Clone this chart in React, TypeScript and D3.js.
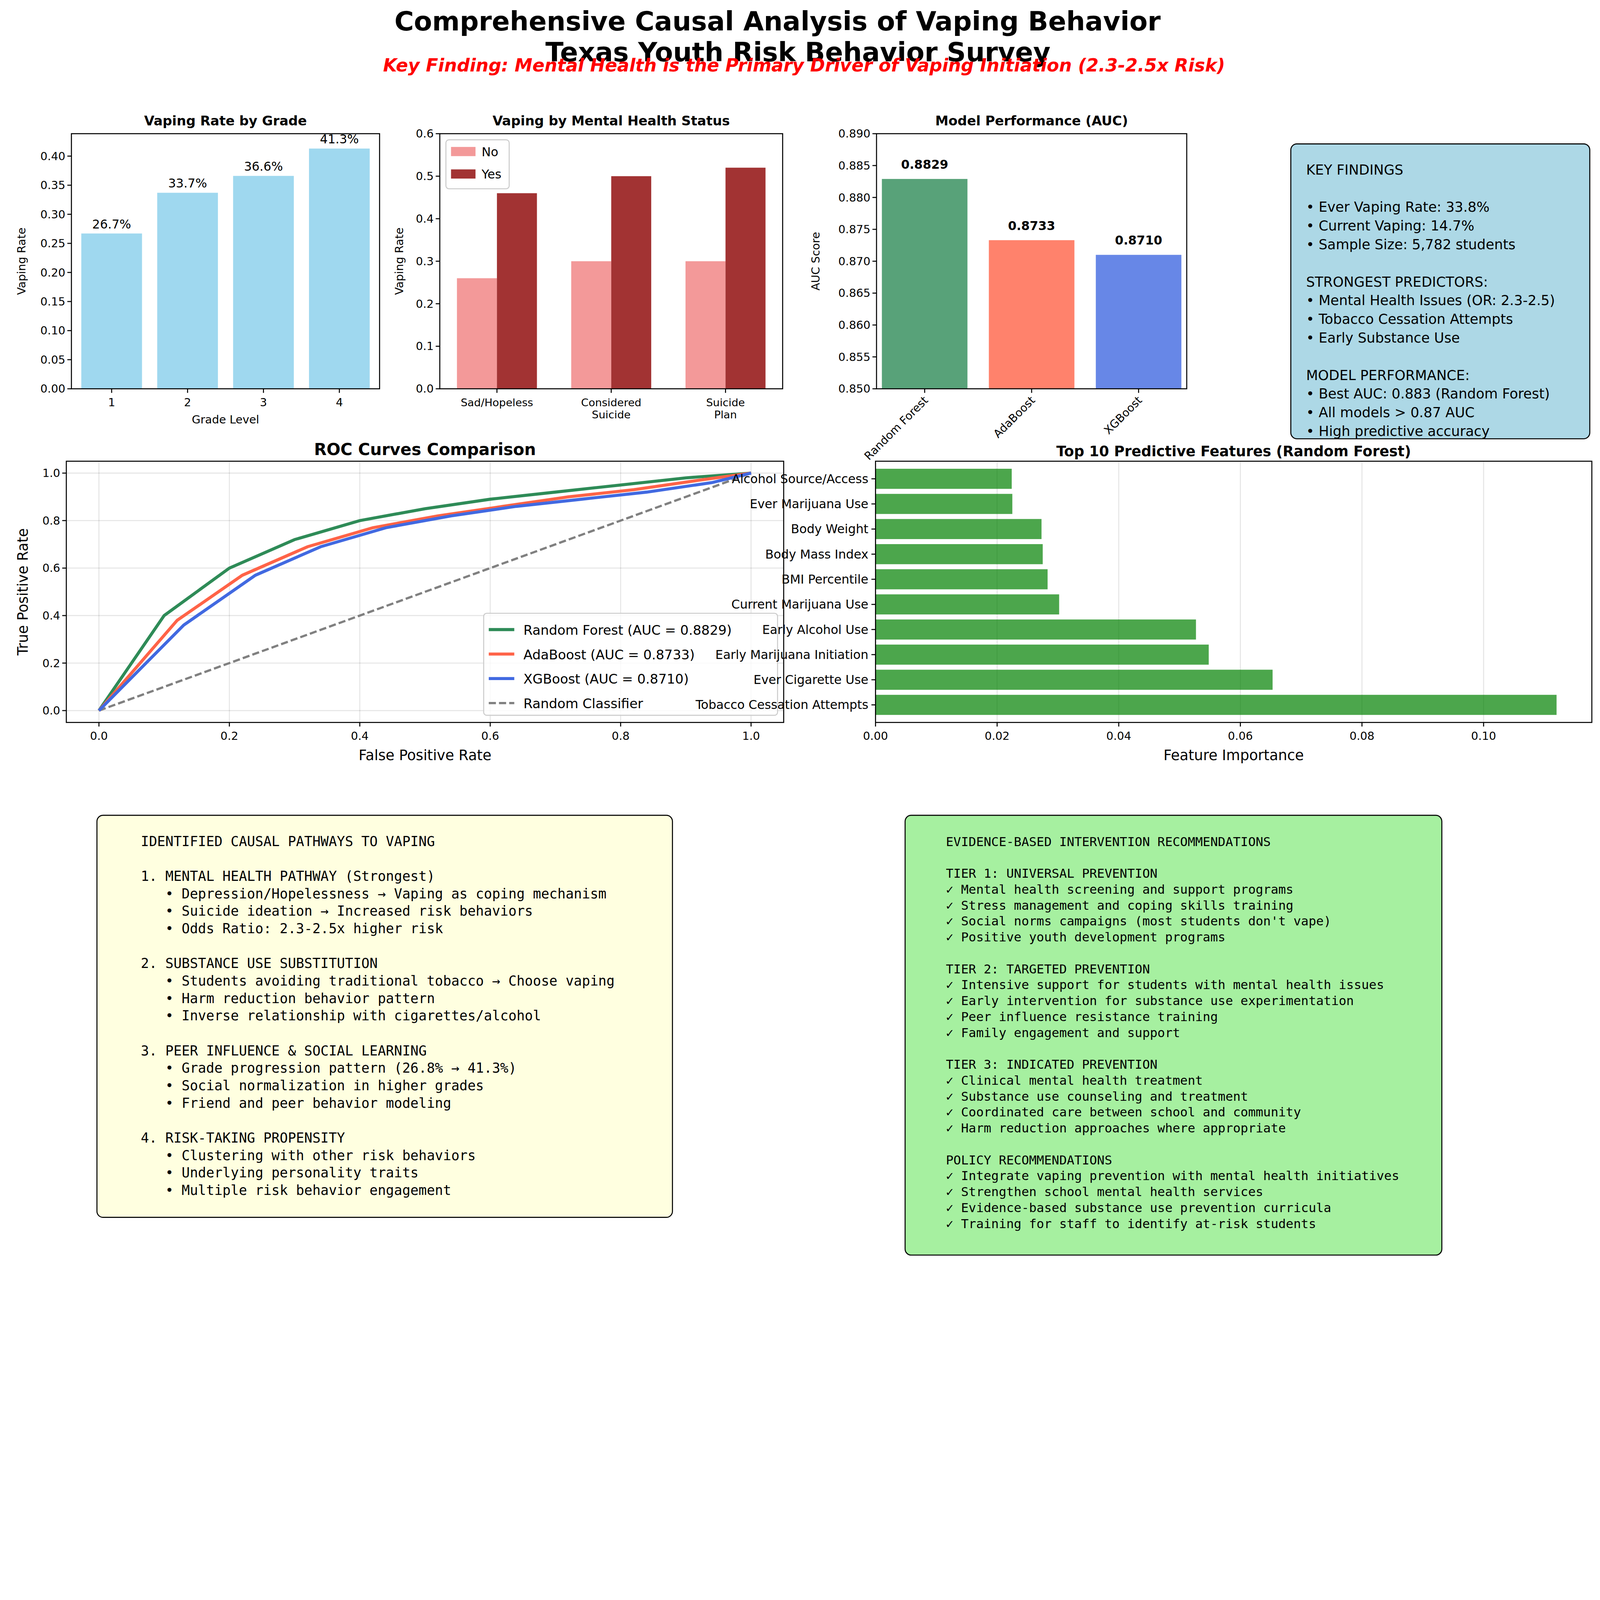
import * as d3 from "d3";

const grades = ["1", "2", "3", "4"];
const gradeRates = [0.267, 0.337, 0.366, 0.413];

const mhCategories = ["Sad/Hopeless", "Considered\nSuicide", "Suicide\nPlan"];
const mhNo = [0.26, 0.3, 0.3];
const mhYes = [0.46, 0.5, 0.52];

const models = ["Random Forest", "AdaBoost", "XGBoost"];
const modelAuc = [0.8829, 0.8733, 0.871];
const modelColors = ["#2e8b57", "#ff6347", "#4169e1"];

const rocRF = [[0, 0], [0.1, 0.4], [0.2, 0.6], [0.3, 0.72], [0.4, 0.8], [0.5, 0.85], [0.6, 0.89], [0.7, 0.92], [0.8, 0.95], [0.9, 0.98], [1, 1]];
const rocAda = [[0, 0], [0.12, 0.38], [0.22, 0.57], [0.32, 0.69], [0.42, 0.77], [0.52, 0.82], [0.62, 0.86], [0.72, 0.9], [0.82, 0.93], [0.92, 0.97], [1, 1]];
const rocXgb = [[0, 0], [0.13, 0.36], [0.24, 0.57], [0.34, 0.69], [0.44, 0.77], [0.54, 0.82], [0.64, 0.86], [0.74, 0.89], [0.84, 0.92], [0.94, 0.96], [1, 1]];

const features = ["Alcohol Source/Access", "Ever Marijuana Use", "Body Weight", "Body Mass Index", "BMI Percentile", "Current Marijuana Use", "Early Alcohol Use", "Early Marijuana Initiation", "Ever Cigarette Use", "Tobacco Cessation Attempts"];
const importances = [0.0224, 0.0225, 0.0273, 0.0275, 0.0283, 0.0302, 0.0527, 0.0548, 0.0653, 0.112];

const keyFindings = [
  "KEY FINDINGS", "", "• Ever Vaping Rate: 33.8%", "• Current Vaping: 14.7%", "• Sample Size: 5,782 students", "",
  "STRONGEST PREDICTORS:", "• Mental Health Issues (OR: 2.3-2.5)", "• Tobacco Cessation Attempts", "• Early Substance Use", "",
  "MODEL PERFORMANCE:", "• Best AUC: 0.883 (Random Forest)", "• All models > 0.87 AUC", "• High predictive accuracy",
];

const pathways = [
  "IDENTIFIED CAUSAL PATHWAYS TO VAPING", "",
  "1. MENTAL HEALTH PATHWAY (Strongest)",
  "   • Depression/Hopelessness → Vaping as coping mechanism",
  "   • Suicide ideation → Increased risk behaviors",
  "   • Odds Ratio: 2.3-2.5x higher risk", "",
  "2. SUBSTANCE USE SUBSTITUTION",
  "   • Students avoiding traditional tobacco → Choose vaping",
  "   • Harm reduction behavior pattern",
  "   • Inverse relationship with cigarettes/alcohol", "",
  "3. PEER INFLUENCE & SOCIAL LEARNING",
  "   • Grade progression pattern (26.8% → 41.3%)",
  "   • Social normalization in higher grades",
  "   • Friend and peer behavior modeling", "",
  "4. RISK-TAKING PROPENSITY",
  "   • Clustering with other risk behaviors",
  "   • Underlying personality traits",
  "   • Multiple risk behavior engagement",
];

const interventions = [
  "EVIDENCE-BASED INTERVENTION RECOMMENDATIONS", "",
  "TIER 1: UNIVERSAL PREVENTION",
  "✓ Mental health screening and support programs",
  "✓ Stress management and coping skills training",
  "✓ Social norms campaigns (most students don't vape)",
  "✓ Positive youth development programs", "",
  "TIER 2: TARGETED PREVENTION",
  "✓ Intensive support for students with mental health issues",
  "✓ Early intervention for substance use experimentation",
  "✓ Peer influence resistance training",
  "✓ Family engagement and support", "",
  "TIER 3: INDICATED PREVENTION",
  "✓ Clinical mental health treatment",
  "✓ Substance use counseling and treatment",
  "✓ Coordinated care between school and community",
  "✓ Harm reduction approaches where appropriate", "",
  "POLICY RECOMMENDATIONS",
  "✓ Integrate vaping prevention with mental health initiatives",
  "✓ Strengthen school mental health services",
  "✓ Evidence-based substance use prevention curricula",
  "✓ Training for staff to identify at-risk students",
];

const FONT = "DejaVu Sans, sans-serif";
const MONO = "DejaVu Sans Mono, monospace";

function YAxis({ y, x0, ticks, fmt, fs = 11 }: any) {
  return (
    <g>
      {ticks.map((t: number) => (
        <g key={t} transform={`translate(${x0},${y(t)})`}>
          <line x1={-4} x2={0} stroke="#000" />
          <text x={-6} dy="0.35em" textAnchor="end" fontSize={fs}>{fmt(t)}</text>
        </g>
      ))}
    </g>
  );
}

function Frame({ l, t, r, b }: any) {
  return <rect x={l} y={t} width={r - l} height={b - t} fill="none" stroke="#000" strokeWidth={1} />;
}

function GradePanel() {
  const l = 70, t = 131, r = 372, b = 381;
  const x = d3.scaleBand().domain(grades).range([l, r]).paddingInner(0.2).paddingOuter(0.13);
  const y = d3.scaleLinear().domain([0, 0.4386]).range([b, t]);
  return (
    <g>
      {grades.map((g, i) => (
        <g key={g}>
          <rect x={x(g)} y={y(gradeRates[i])} width={x.bandwidth()} height={b - y(gradeRates[i])} fill="#87ceeb" opacity={0.8} />
          <text x={x(g)! + x.bandwidth() / 2} y={y(gradeRates[i]) - 5} textAnchor="middle" fontSize={12}>{(gradeRates[i] * 100).toFixed(1)}%</text>
          <line x1={x(g)! + x.bandwidth() / 2} x2={x(g)! + x.bandwidth() / 2} y1={b} y2={b + 4} stroke="#000" />
          <text x={x(g)! + x.bandwidth() / 2} y={b + 17} textAnchor="middle" fontSize={11}>{g}</text>
        </g>
      ))}
      <YAxis y={y} x0={l} ticks={d3.range(0, 0.401, 0.05)} fmt={(v: number) => v.toFixed(2)} />
      <Frame l={l} t={t} r={r} b={b} />
      <text x={(l + r) / 2} y={t - 8} textAnchor="middle" fontSize={13} fontWeight="bold">Vaping Rate by Grade</text>
      <text x={(l + r) / 2} y={b + 34} textAnchor="middle" fontSize={11}>Grade Level</text>
      <text transform={`translate(${l - 45},${(t + b) / 2}) rotate(-90)`} textAnchor="middle" fontSize={11}>Vaping Rate</text>
    </g>
  );
}

function MentalPanel() {
  const l = 431, t = 131, r = 767, b = 381;
  const x = d3.scaleBand().domain(mhCategories).range([l, r]).paddingInner(0.3).paddingOuter(0.15);
  const y = d3.scaleLinear().domain([0, 0.6]).range([b, t]);
  const w = x.bandwidth() / 2;
  return (
    <g>
      {mhCategories.map((c, i) => {
        const cx = x(c)! + w;
        return (
          <g key={c}>
            <rect x={x(c)} y={y(mhNo[i])} width={w} height={b - y(mhNo[i])} fill="#f08080" opacity={0.8} />
            <rect x={cx} y={y(mhYes[i])} width={w} height={b - y(mhYes[i])} fill="#8b0000" opacity={0.8} />
            <line x1={cx} x2={cx} y1={b} y2={b + 4} stroke="#000" />
            {c.split("\n").map((s, k) => (
              <text key={k} x={cx} y={b + 17 + k * 12} textAnchor="middle" fontSize={10.5}>{s}</text>
            ))}
          </g>
        );
      })}
      <YAxis y={y} x0={l} ticks={d3.range(0, 0.61, 0.1)} fmt={(v: number) => v.toFixed(1)} />
      <Frame l={l} t={t} r={r} b={b} />
      <g>
        <rect x={437} y={137} width={62} height={48} fill="#fff" stroke="#ccc" rx={3} />
        <rect x={442} y={144} width={24} height={9} fill="#f08080" opacity={0.8} />
        <text x={472} y={153} fontSize={12}>No</text>
        <rect x={442} y={166} width={24} height={9} fill="#8b0000" opacity={0.8} />
        <text x={472} y={175} fontSize={12}>Yes</text>
      </g>
      <text x={(l + r) / 2} y={t - 8} textAnchor="middle" fontSize={13} fontWeight="bold">Vaping by Mental Health Status</text>
      <text transform={`translate(${l - 36},${(t + b) / 2}) rotate(-90)`} textAnchor="middle" fontSize={11}>Vaping Rate</text>
    </g>
  );
}

function AucPanel() {
  const l = 859, t = 131, r = 1163, b = 381;
  const x = d3.scaleBand().domain(models).range([l, r]).paddingInner(0.2).paddingOuter(0.05);
  const y = d3.scaleLinear().domain([0.85, 0.89]).range([b, t]);
  return (
    <g>
      {models.map((m, i) => {
        const cx = x(m)! + x.bandwidth() / 2;
        return (
          <g key={m}>
            <rect x={x(m)} y={y(modelAuc[i])} width={x.bandwidth()} height={b - y(modelAuc[i])} fill={modelColors[i]} opacity={0.8} />
            <text x={cx} y={y(modelAuc[i]) - 10} textAnchor="middle" fontSize={12} fontWeight="bold">{modelAuc[i].toFixed(4)}</text>
            <line x1={cx} x2={cx} y1={b} y2={b + 4} stroke="#000" />
            <text transform={`translate(${cx + 4},${b + 12}) rotate(-45)`} textAnchor="end" fontSize={11}>{m}</text>
          </g>
        );
      })}
      <YAxis y={y} x0={l} ticks={d3.range(0.85, 0.8901, 0.005)} fmt={(v: number) => v.toFixed(3)} />
      <Frame l={l} t={t} r={r} b={b} />
      <text x={(l + r) / 2} y={t - 8} textAnchor="middle" fontSize={13} fontWeight="bold">Model Performance (AUC)</text>
      <text transform={`translate(${l - 56},${(t + b) / 2}) rotate(-90)`} textAnchor="middle" fontSize={11}>AUC Score</text>
    </g>
  );
}

function RocPanel() {
  const l = 65, t = 452, r = 768, b = 708;
  const x = d3.scaleLinear().domain([-0.05, 1.05]).range([l, r]);
  const y = d3.scaleLinear().domain([-0.05, 1.05]).range([b, t]);
  const line = d3.line<number[]>().x((d) => x(d[0])).y((d) => y(d[1]));
  const ticks = d3.range(0, 1.01, 0.2);
  const curves = [rocRF, rocAda, rocXgb];
  const labels = ["Random Forest (AUC = 0.8829)", "AdaBoost (AUC = 0.8733)", "XGBoost (AUC = 0.8710)"];
  return (
    <g>
      {ticks.map((v) => (
        <g key={v}>
          <line x1={x(v)} x2={x(v)} y1={t} y2={b} stroke="#000" strokeOpacity={0.1} />
          <line x1={l} x2={r} y1={y(v)} y2={y(v)} stroke="#000" strokeOpacity={0.1} />
          <line x1={x(v)} x2={x(v)} y1={b} y2={b + 4} stroke="#000" />
          <text x={x(v)} y={b + 17} textAnchor="middle" fontSize={11}>{v.toFixed(1)}</text>
        </g>
      ))}
      <YAxis y={y} x0={l} ticks={ticks} fmt={(v: number) => v.toFixed(1)} />
      <path d={line([[0, 0], [1, 1]])!} stroke="#808080" strokeWidth={2.2} strokeDasharray="7,3" fill="none" />
      {curves.map((c, i) => (
        <path key={i} d={line(c)!} stroke={modelColors[i]} strokeWidth={3} fill="none" />
      ))}
      <Frame l={l} t={t} r={r} b={b} />
      <g>
        <rect x={474} y={601} width={288} height={100} fill="#fff" fillOpacity={0.8} stroke="#ccc" rx={3} />
        {labels.map((s, i) => (
          <g key={s}>
            <line x1={479} x2={504} y1={617 + i * 24} y2={617 + i * 24} stroke={modelColors[i]} strokeWidth={3} />
            <text x={513} y={622 + i * 24} fontSize={13}>{s}</text>
          </g>
        ))}
        <line x1={479} x2={504} y1={689} y2={689} stroke="#808080" strokeWidth={2.2} strokeDasharray="7,3" />
        <text x={513} y={694} fontSize={13}>Random Classifier</text>
      </g>
      <text x={(l + r) / 2} y={t - 6} textAnchor="middle" fontSize={16} fontWeight="bold">ROC Curves Comparison</text>
      <text x={(l + r) / 2} y={b + 37} textAnchor="middle" fontSize={14}>False Positive Rate</text>
      <text transform={`translate(${l - 38},${(t + b) / 2}) rotate(-90)`} textAnchor="middle" fontSize={14}>True Positive Rate</text>
    </g>
  );
}

function FeaturePanel() {
  const l = 858, t = 452, r = 1560, b = 708;
  const x = d3.scaleLinear().domain([0, 0.1178]).range([l, r]);
  const y = d3.scaleBand().domain(features).range([t, b]).paddingInner(0.2).paddingOuter(0.3);
  return (
    <g>
      {d3.range(0, 0.101, 0.02).map((v) => (
        <g key={v}>
          <line x1={x(v)} x2={x(v)} y1={t} y2={b} stroke="#000" strokeOpacity={0.1} />
          <line x1={x(v)} x2={x(v)} y1={b} y2={b + 4} stroke="#000" />
          <text x={x(v)} y={b + 17} textAnchor="middle" fontSize={11}>{v.toFixed(2)}</text>
        </g>
      ))}
      {features.map((f, i) => (
        <g key={f}>
          <rect x={l} y={y(f)} width={x(importances[i]) - l} height={y.bandwidth()} fill="#008000" opacity={0.7} />
          <line x1={l - 4} x2={l} y1={y(f)! + y.bandwidth() / 2} y2={y(f)! + y.bandwidth() / 2} stroke="#000" />
          <text x={l - 7} y={y(f)! + y.bandwidth() / 2} dy="0.35em" textAnchor="end" fontSize={12}>{f}</text>
        </g>
      ))}
      <Frame l={l} t={t} r={r} b={b} />
      <text x={(l + r) / 2} y={t - 5} textAnchor="middle" fontSize={14} fontWeight="bold">Top 10 Predictive Features (Random Forest)</text>
      <text x={(l + r) / 2} y={b + 37} textAnchor="middle" fontSize={14}>Feature Importance</text>
    </g>
  );
}

function TextBox({ lines, x, y, w, h, fill, font, fs, lh, pad }: any) {
  return (
    <g>
      <rect x={x} y={y} width={w} height={h} rx={6} fill={fill} stroke="#000" strokeWidth={1} />
      {lines.map((s: string, i: number) => (
        <text key={i} x={x + pad} y={y + 30 + i * lh} fontSize={fs} fontFamily={font} style={{ whiteSpace: "pre" }}>{s}</text>
      ))}
    </g>
  );
}

export default function App() {
  return (
    <>
      <style>{"html,body{margin:0;padding:0;overflow:hidden;background:#fff}"}</style>
      <svg viewBox="0 0 1568 1358" preserveAspectRatio="xMinYMin meet" style={{ position: "absolute", left: 0, top: 0, width: "100vw", height: "auto", display: "block", background: "#fff" }} fontFamily={FONT}>
        <rect width={1568} height={1358} fill="#fff" />
        <text x={762} y={30} textAnchor="middle" fontSize={26} fontWeight="bold">Comprehensive Causal Analysis of Vaping Behavior</text>
        <text x={782} y={60} textAnchor="middle" fontSize={26} fontWeight="bold">Texas Youth Risk Behavior Survey</text>
        <text x={788} y={70} textAnchor="middle" fontSize={17.5} fontWeight="bold" fontStyle="italic" fill="#ff0000">Key Finding: Mental Health is the Primary Driver of Vaping Initiation (2.3-2.5x Risk)</text>
        <GradePanel />
        <MentalPanel />
        <AucPanel />
        <TextBox lines={keyFindings} x={1265} y={141} w={293} h={289} fill="#add8e6" font={FONT} fs={13.5} lh={18.3} pad={15} />
        <RocPanel />
        <FeaturePanel />
        <TextBox lines={pathways} x={95} y={799} w={564} h={394} fill="#ffffe0" font={MONO} fs={13.3} lh={17.1} pad={43} />
        <TextBox lines={interventions} x={887} y={799} w={526} h={431} fill="#a6f0a0" font={MONO} fs={12.3} lh={15.6} pad={40} />
      </svg>
    </>
  );
}
